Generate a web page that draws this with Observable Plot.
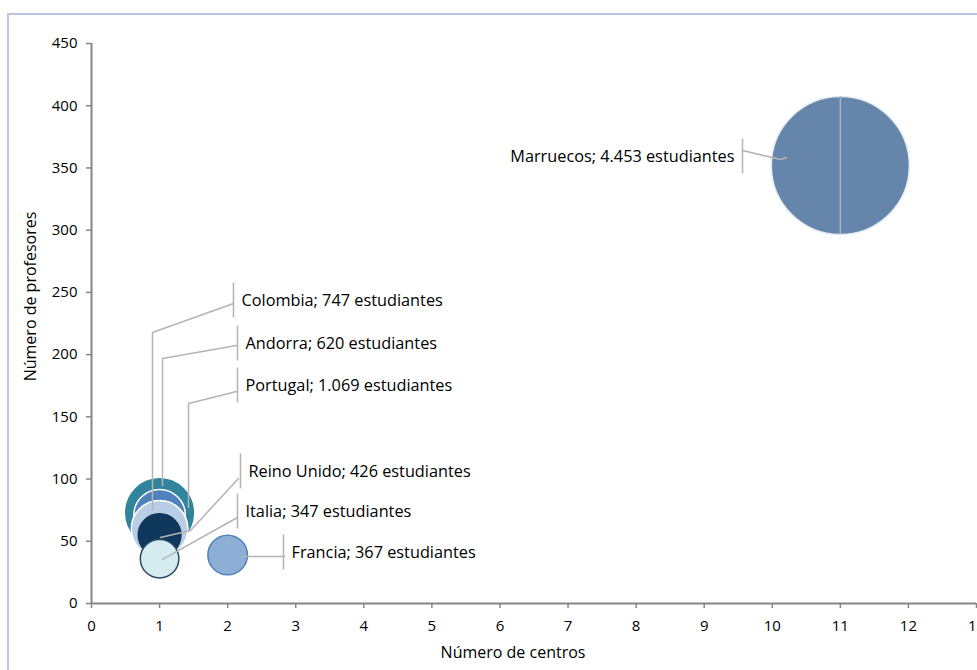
<!DOCTYPE html>
<html>
<head>
<meta charset="utf-8">
<script src="https://cdn.jsdelivr.net/npm/d3@7"></script>
<script src="https://cdn.jsdelivr.net/npm/@observablehq/plot@0.6"></script>
<style>
  html, body { margin: 0; padding: 0; background: #fff; }
  #wrap { position: relative; width: 977px; height: 670px; overflow: hidden; }
  #frame { position: absolute; left: 7px; top: 13px; width: 1000px; height: 700px;
           border-top: 2px solid #BAC6DD; border-left: 2px solid #BAC6DD; box-sizing: border-box; }
  #chart { position: absolute; left: 0; top: 0; }
</style>
</head>
<body>
<div id="wrap"><div id="frame"></div><div id="chart"></div></div>
<script>
// ---- data ----
const paises      = ["Portugal", "Andorra", "Colombia", "Reino Unido", "Italia", "Francia", "Marruecos"];
const centros     = [1, 1, 1, 1, 1, 2, 11];
const profesores  = [73, 71, 60, 55, 36, 39, 352];
const estudiantes = [1069, 620, 747, 426, 347, 367, 4453];
const xTicks = [0,1,2,3,4,5,6,7,8,9,10,11,12,13];
const yTicks = [0,50,100,150,200,250,300,350,400,450];
const xTitulo = "Número de centros";
const yTitulo = "Número de profesores";

// ---- styles / layout (kept apart from data) ----
const relleno = ["#31849B", "#4F81BD", "#B9CDE5", "#10375C", "#D4EBF0", "#8DAFD6", "#6585AA"];
const borde   = ["#31849B", "#FFFFFF", "#FFFFFF", "#10375C", "#2E4A66", "#4F81BD", "#E4EAF1"];
// label anchor positions (data units)
const etiquetaX = [2.262, 2.262, 2.203, 2.306, 2.262, 2.938, 9.445];
const etiquetaY = [175.2, 208.9, 243.5, 106.1, 73.9, 41.0, 359.2];
const etiquetaAncla = ["start","start","start","start","start","start","end"];
// leader line paths (data units)
const guias = {
  "Portugal":    [[2.130,170.4],[1.425,160.7],[1.425,77.1]],
  "Andorra":     [[2.130,207.3],[1.043,196.9],[1.043,94.8]],
  "Colombia":    [[2.086,241.1],[0.896,217.8],[0.896,74.7]],
  "Reino Unido": [[2.159,100.4],[1.454,58.7],[1.013,53.0]],
  "Italia":      [[2.144,69.1],[1.043,35.4]],
  "Francia":     [[2.835,37.8],[2.218,37.8]],
  "Marruecos":   [[9.562,364.0],[10.120,356.8],[10.208,358.4]]
};

const fmt = d3.formatLocale({decimal: ",", thousands: ".", grouping: [3], currency: ["", "€"]}).format(",d");

const datos = paises.map((p, i) => ({
  pais: p, x: centros[i], y: profesores[i], est: estudiantes[i],
  fill: relleno[i], stroke: borde[i],
  lx: etiquetaX[i], ly: etiquetaY[i], anchor: etiquetaAncla[i],
  texto: `${p}; ${fmt(estudiantes[i])} estudiantes`
}));
const lineas = [];
for (const [p, pts] of Object.entries(guias)) pts.forEach(([x, y]) => lineas.push({pais: p, x, y}));
const izq = datos.filter(d => d.anchor === "start");
const der = datos.filter(d => d.anchor === "end");
const bar = {y1: d => d.ly - 14, y2: d => d.ly + 14, stroke: "#B4B4B4", strokeWidth: 1.5};

const gris = "#868686";
const fs = 16.3;
const chart = Plot.plot({
  width: 977, height: 670,
  marginLeft: 91, marginRight: 1, marginTop: 43, marginBottom: 67,
  x: {domain: [0, 13]},
  y: {domain: [0, 450]},
  r: {type: "sqrt", domain: [0, 4453], range: [0, 69]},
  style: {fontFamily: "'Open Sans', sans-serif", fontSize: "15px", color: "#000", background: "transparent"},
  marks: [
    Plot.axisX({ticks: xTicks, tickSize: 5, tickPadding: 12, stroke: gris, strokeWidth: 1.5, label: null, fontSize: 15, fill: "#000", strokeOpacity: 1}),
    Plot.axisY({ticks: yTicks, tickSize: 5, tickPadding: 9, stroke: gris, strokeWidth: 1.5, label: null, fontSize: 15, fill: "#000", strokeOpacity: 1}),
    Plot.ruleY([0], {stroke: gris, strokeWidth: 2}),
    Plot.ruleX([0], {stroke: gris, strokeWidth: 2}),
    Plot.text([xTitulo], {frameAnchor: "bottom", textAnchor: "middle", lineAnchor: "middle", dy: 49, dx: -21, fontSize: 16, fill: "#000"}),
    Plot.text([yTitulo], {frameAnchor: "left", textAnchor: "middle", lineAnchor: "middle", rotate: -90, dx: -61, dy: -27, fontSize: 16, fill: "#000"}),
    Plot.dot(datos, {x: "x", y: "y", r: "est", fill: "fill", stroke: "stroke", strokeWidth: 1.5, fillOpacity: 1, sort: null}),
    Plot.ruleX(der, {x: "x", y1: d => d.y - 55.4, y2: d => d.y + 55.4, stroke: "#A3B6CD", strokeWidth: 1.5}),
    Plot.line(lineas, {x: "x", y: "y", z: "pais", stroke: "#B4B4B4", strokeWidth: 1.5}),
    Plot.ruleX(izq, {x: "lx", dx: -8, ...bar}),
    Plot.ruleX(der, {x: "lx", dx: 8, ...bar}),
    Plot.text(izq, {x: "lx", y: "ly", text: "texto", textAnchor: "start", fontSize: fs, fill: "#000"}),
    Plot.text(der, {x: "lx", y: "ly", text: "texto", textAnchor: "end", fontSize: fs, fill: "#000"})
  ]
});
document.getElementById("chart").appendChild(chart);
</script>
</body>
</html>
